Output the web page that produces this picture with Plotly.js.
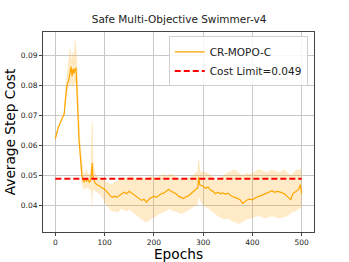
<!DOCTYPE html>
<html>
<head>
<meta charset="utf-8">
<script src="https://cdn.plot.ly/plotly-3.0.1.min.js"></script>
<style>html,body{margin:0;padding:0;background:#fff;}#chart{width:349px;height:262px;}</style>
</head>
<body>
<div id="chart"></div>
<script>
const epochs = [0,3,6,9,12,15,18,21,24,27,30,32,34,36,38,40,42,44,46,48,50,52,54,56,58,60,63,66,69,72,74,75,76,78,80,84,88,92,96,100,104,108,112,116,120,125,130,135,140,145,150,155,160,165,170,175,180,185,190,195,200,205,210,215,220,225,230,235,240,245,250,255,260,265,270,275,280,285,289,291,293,296,300,305,310,315,320,325,330,335,340,345,350,355,360,365,370,375,380,385,390,395,400,405,410,415,420,425,430,435,440,445,450,455,460,465,470,475,478,482,486,490,494,497,500];
const meanCost = [0.0622,0.0645,0.0660,0.0672,0.0682,0.0692,0.0705,0.0760,0.0805,0.0815,0.0840,0.0862,0.0830,0.0855,0.0840,0.0855,0.0858,0.0800,0.0700,0.0620,0.0570,0.0540,0.0500,0.0485,0.0478,0.0490,0.0482,0.0488,0.0478,0.0485,0.0520,0.0542,0.0500,0.0485,0.0478,0.0470,0.0468,0.0462,0.0458,0.0455,0.0448,0.0440,0.0432,0.0428,0.0432,0.0428,0.0435,0.0440,0.0445,0.0440,0.0448,0.0442,0.0436,0.0430,0.0425,0.0418,0.0422,0.0412,0.0422,0.0428,0.0432,0.0428,0.0435,0.0440,0.0442,0.0448,0.0455,0.0448,0.0443,0.0440,0.0432,0.0428,0.0424,0.0430,0.0433,0.0440,0.0448,0.0455,0.0460,0.0495,0.0470,0.0468,0.0465,0.0458,0.0462,0.0452,0.0448,0.0440,0.0445,0.0440,0.0443,0.0438,0.0442,0.0436,0.0430,0.0428,0.0425,0.0420,0.0408,0.0415,0.0420,0.0422,0.0420,0.0425,0.0430,0.0432,0.0436,0.0440,0.0442,0.0448,0.0450,0.0445,0.0448,0.0446,0.0444,0.0440,0.0432,0.0425,0.0420,0.0440,0.0445,0.0450,0.0455,0.0470,0.0440];
const upperCost = [0.0626,0.0649,0.0665,0.0677,0.0687,0.0697,0.0712,0.0790,0.0830,0.0860,0.0920,0.0890,0.0880,0.0910,0.0870,0.0950,0.0920,0.0860,0.0760,0.0660,0.0620,0.0580,0.0530,0.0510,0.0500,0.0510,0.0520,0.0505,0.0500,0.0510,0.0600,0.0680,0.0550,0.0520,0.0510,0.0500,0.0495,0.0490,0.0485,0.0480,0.0478,0.0475,0.0470,0.0472,0.0478,0.0480,0.0485,0.0490,0.0492,0.0490,0.0495,0.0500,0.0490,0.0488,0.0492,0.0490,0.0488,0.0490,0.0495,0.0498,0.0495,0.0490,0.0498,0.0500,0.0505,0.0495,0.0502,0.0505,0.0500,0.0495,0.0488,0.0490,0.0485,0.0488,0.0490,0.0495,0.0500,0.0510,0.0510,0.0552,0.0520,0.0510,0.0512,0.0510,0.0508,0.0500,0.0495,0.0482,0.0488,0.0495,0.0500,0.0505,0.0510,0.0512,0.0518,0.0520,0.0512,0.0505,0.0500,0.0505,0.0508,0.0502,0.0510,0.0512,0.0518,0.0520,0.0515,0.0512,0.0510,0.0515,0.0520,0.0515,0.0512,0.0510,0.0515,0.0520,0.0510,0.0505,0.0500,0.0505,0.0515,0.0520,0.0518,0.0522,0.0505];
const lowerCost = [0.0618,0.0641,0.0655,0.0667,0.0677,0.0687,0.0698,0.0740,0.0780,0.0790,0.0800,0.0810,0.0790,0.0800,0.0795,0.0810,0.0800,0.0740,0.0640,0.0580,0.0530,0.0500,0.0470,0.0460,0.0450,0.0460,0.0455,0.0462,0.0452,0.0455,0.0420,0.0390,0.0445,0.0455,0.0450,0.0445,0.0440,0.0435,0.0425,0.0410,0.0400,0.0395,0.0385,0.0380,0.0382,0.0378,0.0385,0.0390,0.0385,0.0380,0.0388,0.0382,0.0375,0.0368,0.0362,0.0355,0.0348,0.0345,0.0350,0.0358,0.0362,0.0365,0.0372,0.0375,0.0380,0.0382,0.0390,0.0385,0.0382,0.0380,0.0378,0.0372,0.0375,0.0380,0.0385,0.0390,0.0395,0.0400,0.0405,0.0430,0.0420,0.0410,0.0402,0.0395,0.0392,0.0385,0.0378,0.0370,0.0365,0.0360,0.0358,0.0355,0.0358,0.0352,0.0348,0.0345,0.0340,0.0342,0.0345,0.0352,0.0355,0.0358,0.0360,0.0362,0.0365,0.0365,0.0362,0.0358,0.0360,0.0362,0.0365,0.0362,0.0360,0.0358,0.0360,0.0362,0.0365,0.0370,0.0375,0.0380,0.0380,0.0385,0.0390,0.0392,0.0395];
const limitEpochs = [0, 500];
const limitValues = [0.049, 0.049];
const seriesName = "CR-MOPO-C";
const limitName = "Cost Limit=0.049";
const xTicks = [0,100,200,300,400,500];
const yTicks = [0.04,0.05,0.06,0.07,0.08,0.09];

const F = "DejaVu Sans, sans-serif";
const traces = [
  {x: epochs, y: lowerCost, mode: 'lines', line: {width: 0, color: 'rgba(255,165,0,0)'}, showlegend: false, hoverinfo: 'skip'},
  {x: epochs, y: upperCost, mode: 'lines', fill: 'tonexty', fillcolor: 'rgba(255,165,0,0.22)', line: {width: 0.5, color: 'rgba(255,165,0,0.25)'}, showlegend: false, hoverinfo: 'skip'},
  {x: epochs, y: meanCost, mode: 'lines', name: seriesName, line: {color: '#FFA500', width: 1.2}},
  {x: limitEpochs, y: limitValues, mode: 'lines', name: limitName, line: {color: '#FF0000', width: 2, dash: '6px,3px'}}
];
const layout = {
  width: 349, height: 262,
  margin: {l: 43, r: 35, t: 32, b: 30},
  paper_bgcolor: '#fff', plot_bgcolor: '#fff',
  font: {family: F, color: '#000'},
  title: {text: 'Safe Multi-Objective Swimmer-v4', font: {size: 10.5, family: F, color: '#222'}, x: 0.513, xanchor: 'center', y: 0.927, yanchor: 'middle', yref: 'container'},
  xaxis: {range: [-25, 525], tickvals: xTicks, ticktext: xTicks.map(String), tickfont: {size: 7.5, family: F, color: '#222'},
    showgrid: true, gridcolor: '#c8c8c8', gridwidth: 1, zeroline: false,
    showline: true, mirror: true, linecolor: '#444', linewidth: 1,
    ticks: 'outside', ticklen: 3, tickcolor: '#444',
    title: {text: 'Epochs', font: {size: 13.7, family: F, color: '#000'}, standoff: 3}},
  yaxis: {range: [0.0313, 0.0977], tickvals: yTicks, ticktext: yTicks.map(v => v.toFixed(2)), tickfont: {size: 7.5, family: F, color: '#222'},
    showgrid: true, gridcolor: '#c8c8c8', gridwidth: 1, zeroline: false,
    showline: true, mirror: true, linecolor: '#444', linewidth: 1,
    ticks: 'outside', ticklen: 3, tickcolor: '#444',
    title: {text: 'Average Step Cost', font: {size: 13.7, family: F, color: '#000'}, standoff: 2}},
  legend: {x: 0.977, xanchor: 'right', y: 0.978, yanchor: 'top', bgcolor: 'rgba(255,255,255,0.85)', bordercolor: '#d0d0d0', borderwidth: 1,
    font: {size: 10.5, family: F, color: '#222'}, itemwidth: 30, traceorder: 'normal', tracegroupgap: 0},
  showlegend: true
};
Plotly.newPlot('chart', traces, layout, {staticPlot: true, displayModeBar: false});
</script>
</body>
</html>
